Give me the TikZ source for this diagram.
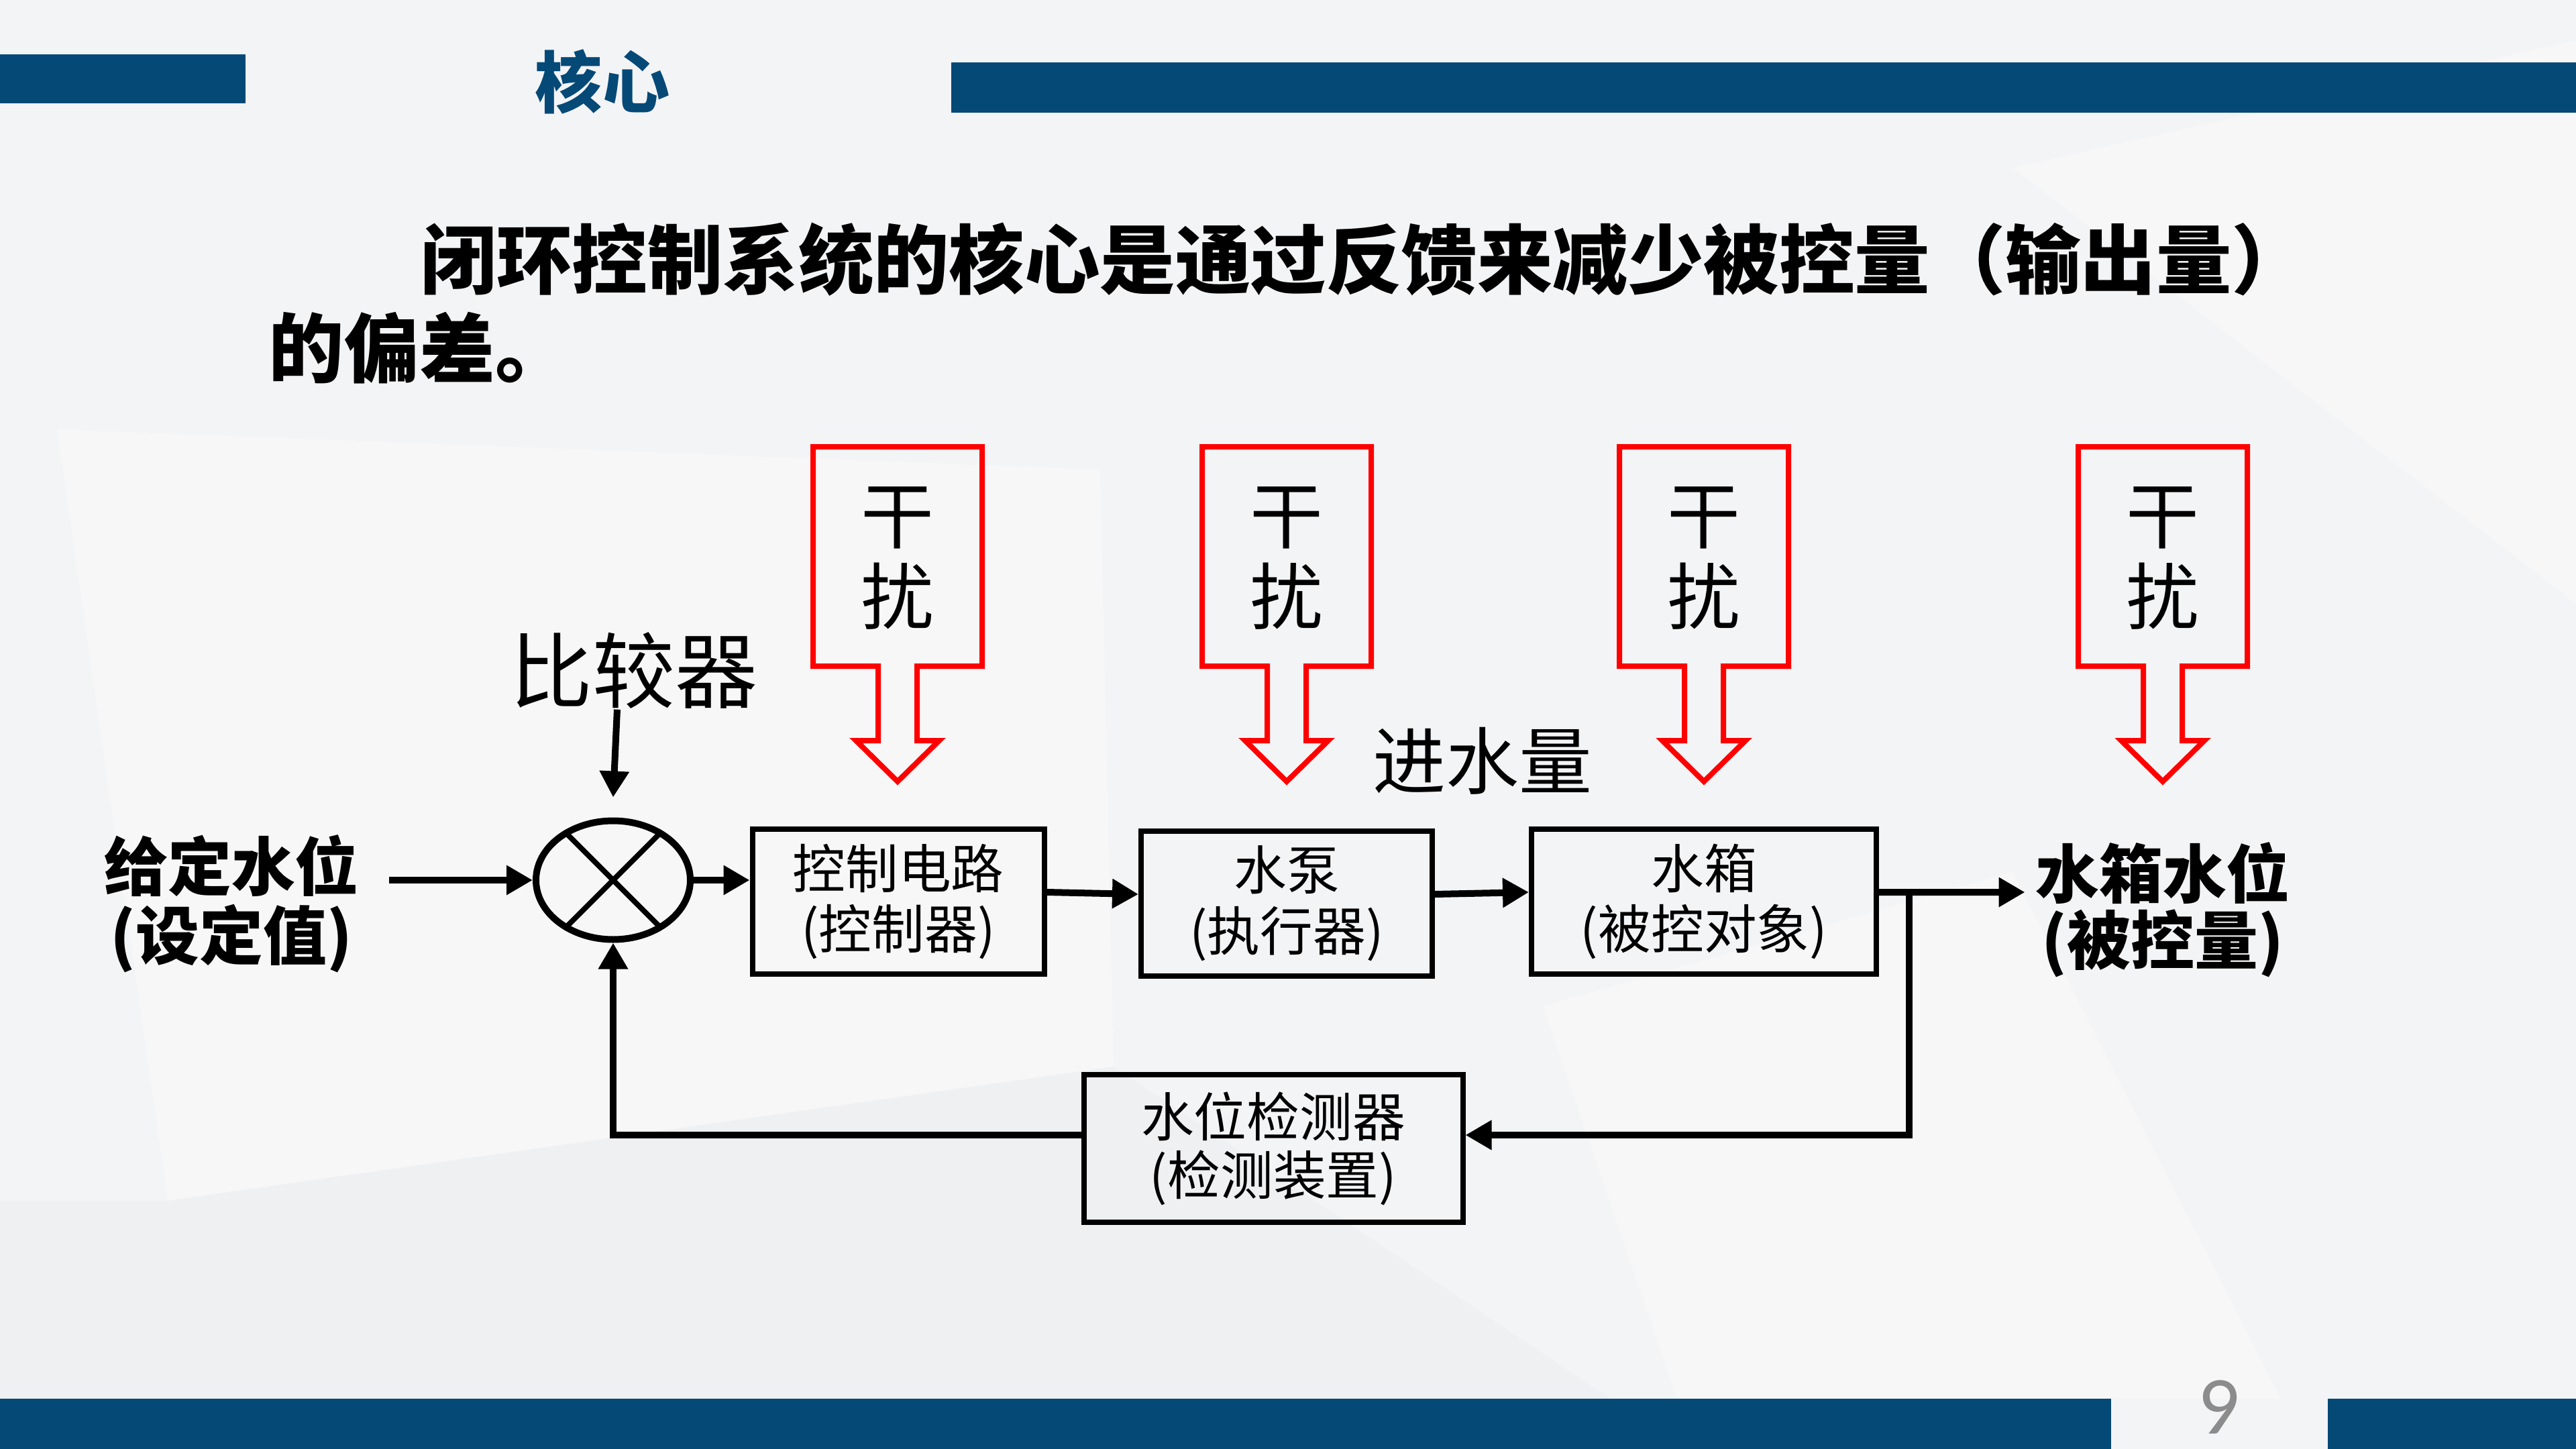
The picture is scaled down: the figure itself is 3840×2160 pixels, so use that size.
\documentclass[tikz,border=0pt]{standalone}
\usepackage{fontspec}
\setmainfont{Liberation Sans}
\newfontfamily\cjk{Noto Sans CJK SC}
\newfontfamily\numfont{Carlito}
\usetikzlibrary{arrows.meta,shapes.geometric,calc}
\definecolor{barblue}{HTML}{054977}
\definecolor{bgbase}{HTML}{F3F4F6}
\definecolor{bglight}{HTML}{F7F7F8}
\definecolor{bgdark}{HTML}{EFF0F2}
\definecolor{pnum}{HTML}{8C8C8C}
\tikzset{
  bar/.style={fill=barblue, draw=none},
  blk/.style={draw=black, line width=0.8mm, inner sep=0pt, align=center,
    font=\cjk\fontsize{22.4pt}{25.8pt}\selectfont},
  arr/.style={draw=black, line width=1mm, -{Triangle[length=3.9mm,width=4.2mm]}},
  xline/.style={draw=black, line width=0.8mm},
  boldlabel/.style={inner sep=0pt, align=center, font=\cjk\bfseries\fontsize{27pt}{29.2pt}\selectfont},
  pics/disturb/.style={code={
    \draw[red, line width=0.8mm, line join=miter]
      (-126,666) -- (126,666) -- (126,993) -- (29,993) -- (29,1104) -- (62,1104)
      -- (0,1165) -- (-62,1104) -- (-29,1104) -- (-29,993) -- (-126,993) -- cycle;
    \node[inner sep=0pt, align=center, font=\cjk\fontsize{31pt}{34.3pt}\selectfont] (-t) at (0,832) {干\\扰};
  }}
}
\begin{document}
\begin{tikzpicture}[x=0.1mm,y=-0.1mm]
\useasboundingbox (0,0) rectangle (3840,2160);
% background
\fill[bgbase] (0,0) rectangle (3840,2160);
\fill[bglight] (85,640) -- (1640,700) -- (1660,1590) -- (250,1790) -- cycle;
\fill[bgdark] (0,1790) -- (250,1790) -- (1660,1590) -- (2400,2085) -- (0,2085) -- cycle;
\fill[bglight] (3000,250) -- (3840,60) -- (3840,900) -- cycle;
\fill[bglight] (2300,1500) -- (3000,1300) -- (3400,2085) -- (2500,2085) -- cycle;
% bars
\fill[bar] (0,81) rectangle (366,154);
\fill[bar] (1418,93) rectangle (3840,168);
\fill[bar] (0,2085) rectangle (3147,2160);
\fill[bar] (3470,2085) rectangle (3840,2160);
% title
\node[inner sep=0pt, text=barblue, font=\cjk\bfseries\fontsize{28.5pt}{30pt}\selectfont] (title) at (898,122) {核心};
% body text
\node[inner sep=0pt, anchor=west, font=\cjk\bfseries\fontsize{32pt}{34pt}\selectfont] (body1) at (627,387) {闭环控制系统的核心是通过反馈来减少被控量（输出量）};
\node[inner sep=0pt, anchor=west, font=\cjk\bfseries\fontsize{32pt}{34pt}\selectfont] (body2) at (400,519) {的偏差。};
% disturbances
\pic (d1) at (1338,0) {disturb};
\pic (d2) at (1918,0) {disturb};
\pic (d3) at (2540,0) {disturb};
\pic (d4) at (3224,0) {disturb};
% comparator
\node[ellipse, draw=black, line width=1mm, minimum width=23mm, minimum height=17.7mm, inner sep=0pt] (cmp) at (914,1312) {};
\draw[xline] ($(cmp.center)+(-73,-73)$) -- ($(cmp.center)+(73,73)$);
\draw[xline] ($(cmp.center)+(73,-73)$) -- ($(cmp.center)+(-73,73)$);
\node[inner sep=0pt, font=\cjk\fontsize{35pt}{38pt}\selectfont] (cmpl) at (945,1000) {比较器};
% labels
\node[boldlabel] (inp) at (345,1347) {给定水位\\(设定值)};
\node[boldlabel, font=\cjk\bfseries\fontsize{27pt}{28.3pt}\selectfont] (outl) at (3224,1356) {水箱水位\\(被控量)};
\node[inner sep=0pt, font=\cjk\fontsize{31pt}{34pt}\selectfont] (inq) at (2210,1134) {进水量};
% blocks
\node[blk, minimum width=43.5mm, minimum height=21.6mm] (b1) at (1339,1344) {控制电路\\(控制器)};
\node[blk, minimum width=43.4mm, minimum height=21.6mm] (b2) at (1918,1347) {水泵\\(执行器)};
\node[blk, minimum width=51.4mm, minimum height=21.6mm] (b3) at (2540,1344) {水箱\\(被控对象)};
\node[blk, minimum width=56.5mm, minimum height=22mm, font=\cjk\fontsize{22.4pt}{24.7pt}\selectfont] (b4) at (1898,1712) {水位检测器\\(检测装置)};
% connectors
\coordinate (br) at (2846,1330);
\draw[arr] (cmpl.south -| 920,0) -- ([yshift=3mm]cmp.north);
\draw[arr] ([xshift=4.5mm]inp.east |- cmp.west) -- (cmp.west);
\draw[arr] (cmp.east) -- (b1.west |- cmp.east);
\draw[arr] ([yshift=1.4mm]b1.east) -- ([yshift=1.4mm]b2.west);
\draw[arr] ([yshift=1.4mm]b2.east) -- ([yshift=1.4mm]b3.west);
\draw[arr] ([yshift=1.4mm]b3.east) -- ([xshift=-1.5mm]outl.west |- br);
\draw[arr] (br) |- ([yshift=2mm]b4.east);
\draw[arr] ([yshift=2mm]b4.west) -| (cmp.south);
% page number
\node[inner sep=0pt, text=pnum, font=\numfont\fontsize{35pt}{38pt}\selectfont] (pg) at (3308,2098) {9};
\end{tikzpicture}
\end{document}
